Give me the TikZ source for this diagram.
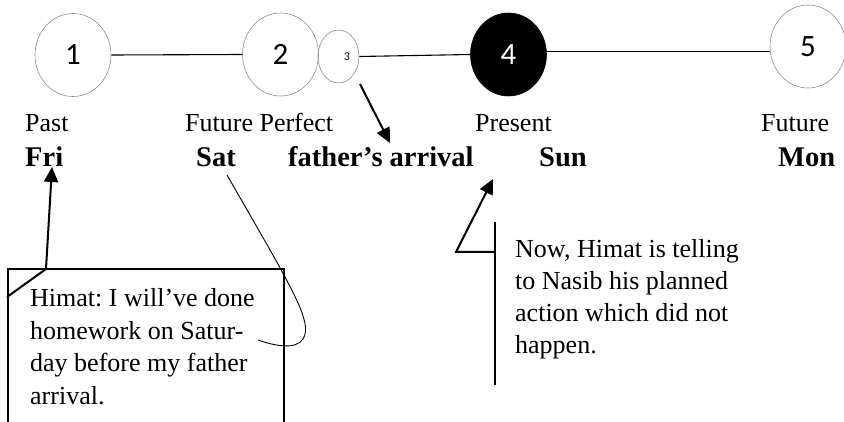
\documentclass[tikz,border=0pt]{standalone}
\usepackage{fontspec}
\setmainfont{Liberation Serif}
\newfontfamily\digitfont{Carlito}
\usetikzlibrary{shapes.geometric,arrows.meta}
\frenchspacing
\begin{document}
\begin{tikzpicture}[x=1pt,y=-1pt,
  bub/.style={ellipse,draw=black!45,line width=0.6pt,inner sep=0pt,
    minimum width=76pt,minimum height=83pt,font=\digitfont\fontsize{31}{34}\selectfont},
  tl/.style={line width=1.1pt},
  lab/.style={anchor=base west,inner sep=0pt,font=\fontsize{26}{31}\selectfont},
  day/.style={anchor=base west,inner sep=0pt,font=\fontsize{28.5}{32}\selectfont\bfseries},
  txt/.style={anchor=base west,inner sep=0pt,font=\fontsize{26}{31}\selectfont\frenchspacing},
  thk/.style={line width=2pt},
  arr/.style={line width=2pt,-{Triangle[length=15pt,width=14pt]}},
  thin/.style={line width=0.9pt}]
\useasboundingbox (0,0) rectangle (844,422);
\clip (0,0) rectangle (844,422);

% circles
\node[bub] (c1) at (73,55) {1};
\node[bub] (c2) at (280.5,54.5) {2};
\node[bub,minimum width=41pt,minimum height=53pt] (c3) at (338.5,56.5) {};
\node[font=\digitfont\fontsize{12}{13}\selectfont,inner sep=0pt] (n3) at (347,57) {3};
\node[bub,fill=black,draw=black,text=white] (c4) at (508.5,54.5) {4};
\node[bub] (c5) at (808,46.5) {5};

\draw[tl] (c1.east) -- (c2.west);
\draw[tl] (c3.east) -- (c4.west);
\draw[tl] (c4.4) -- (c5.west |- c4.4);

% tense labels
\node[lab] (past) at (25,132) {Past};
\node[lab] (fp) at (185,132) {Future Perfect};
\node[lab] (pres) at (475,132) {Present};
\node[lab] (fut) at (761,132) {Future};

% days
\node[day] (fri) at (25,167) {Fri};
\node[day] (sat) at (196,167) {Sat};
\node[day] (fa) at (288,167) {father’s arrival};
\node[day] (sun) at (539,167) {Sun};
\node[day] (mon) at (778,167) {Mon};

% arrow from 3
\coordinate (a3s) at (360,84);
\coordinate (a3e) at (390,143);
\draw[arr] (a3s) -- (a3e);

% left box
\coordinate (bl) at (8,440);
\coordinate (btl) at (8,269);
\coordinate (btr) at (284,269);
\coordinate (br) at (284,440);
\draw[thk] (bl) -- (btl) -- (btr) -- (br);
\node[txt] (h1) at (30,306) {Himat: I will’ve done};
\node[txt] (h2) at (30,339) {homework on Satur-};
\node[txt] (h3) at (30,371) {day before my father};
\node[txt] (h4) at (30,404) {arrival.};

% Fri arrow
\coordinate (f0) at (7,297);
\coordinate (f1) at (46,269);
\coordinate (f2) at (52,167);
\draw[arr] (f0) -- (f1) -- (f2);

% Sat curve
\coordinate (s0) at (227,175);
\coordinate (s1) at (303,339);
\coordinate (s2) at (258,340);
\draw[thin] (s0) .. controls (290,285) and (314,322) .. (s1)
  .. controls (296,350) and (275,346) .. (s2);

% right note
\coordinate (v0) at (495,222);
\coordinate (v1) at (495,385);
\draw[thk] (v0) -- (v1);
\coordinate (k0) at (495,252);
\coordinate (k1) at (456,252);
\coordinate (k2) at (493,179);
\draw[arr] (k0) -- (k1) -- (k2);
\node[txt] (r1) at (515,258) {Now, Himat is telling};
\node[txt] (r2) at (515,290) {to Nasib his planned};
\node[txt] (r3) at (515,322) {action which did not};
\node[txt] (r4) at (515,353) {happen.};
\end{tikzpicture}
\end{document}
